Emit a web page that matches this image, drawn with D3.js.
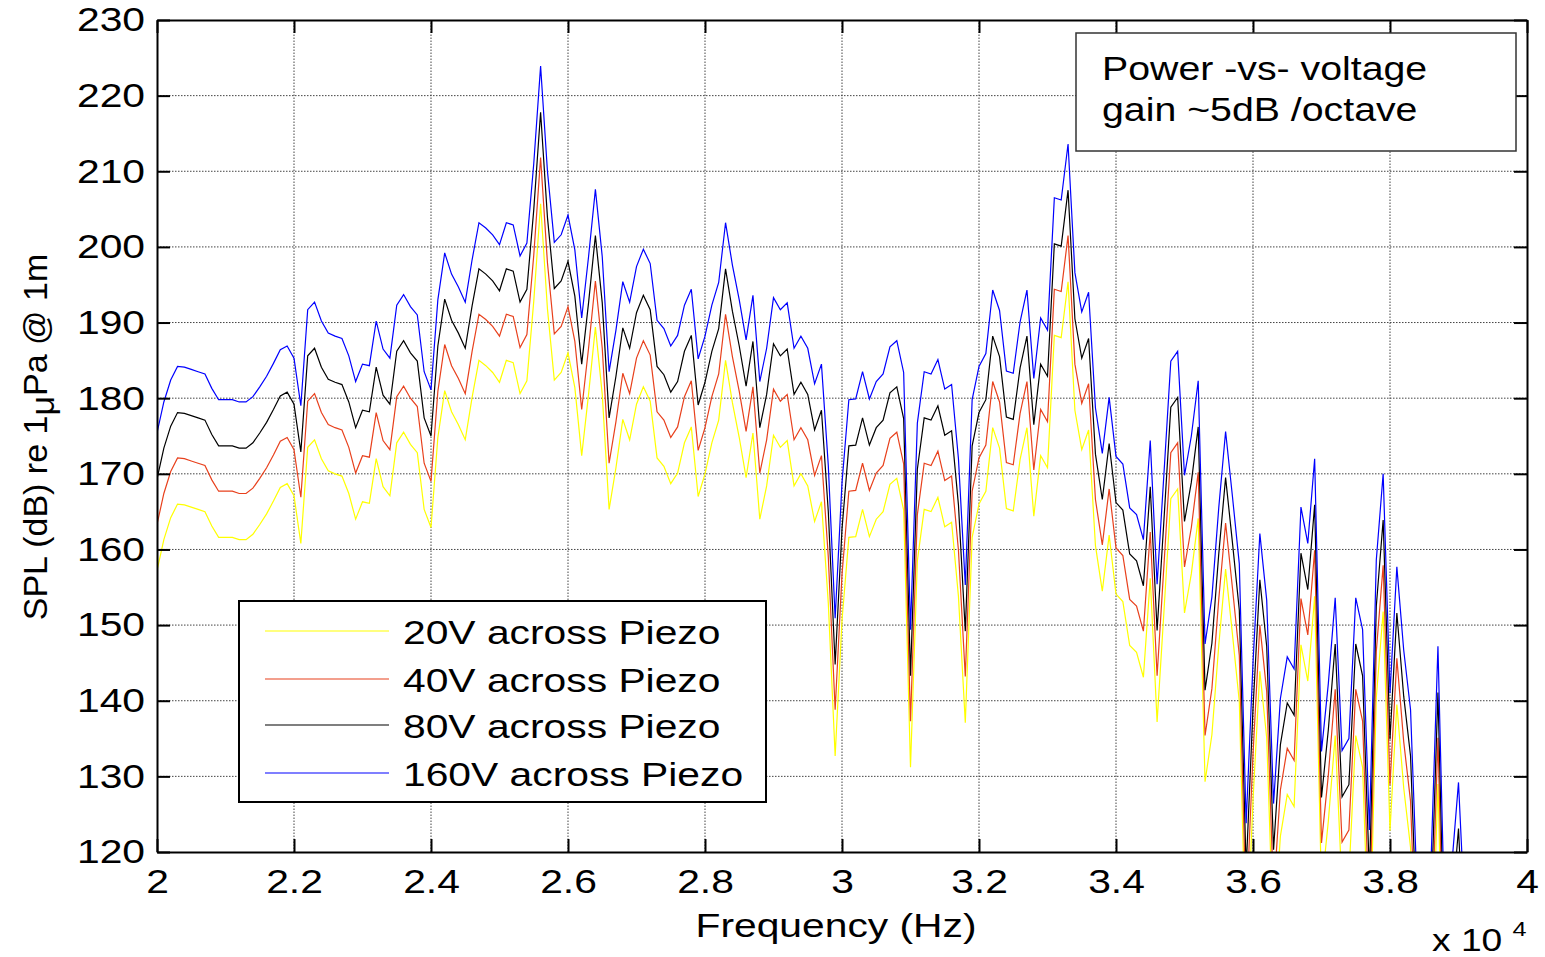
<!DOCTYPE html>
<html>
<head>
<meta charset="utf-8">
<title>SPL vs frequency</title>
<script src="https://cdn.jsdelivr.net/npm/d3@7"></script>
<style>
  body { margin: 0; background: #fff; }
  svg text { font-family: "Liberation Sans", Arial, Helvetica, sans-serif; fill: #000; }
</style>
</head>
<body>
<script>
// frequency grid, 100 Hz steps
const freqHz = d3.range(20000, 39101, 100);

const spl20V = [
  157.2, 161.3, 164.2, 166.0, 165.9, 165.6, 165.3, 165.0, 163.1, 161.6,
  161.6, 161.6, 161.3, 161.3, 162.0, 163.3, 164.7, 166.4, 168.2, 168.7,
  167.1, 160.8, 173.5, 174.5, 172.0, 170.4, 170.0, 169.7, 167.4, 164.0,
  166.3, 166.1, 172.0, 168.3, 167.1, 174.1, 175.5, 173.9, 172.8, 165.3,
  162.9, 174.8, 181.0, 178.2, 176.5, 174.5, 180.1, 185.0, 184.3, 183.4,
  182.1, 185.0, 184.7, 180.6, 182.3, 192.8, 205.7, 191.8, 182.4, 183.4,
  186.0, 181.4, 172.4, 180.5, 189.4, 180.5, 165.3, 170.8, 177.2, 174.5,
  179.2, 181.5, 179.6, 172.1, 171.0, 168.7, 170.1, 174.1, 176.2, 167.0,
  170.0, 174.1, 177.1, 185.0, 179.4, 174.8, 169.5, 175.4, 164.0, 168.4,
  175.1, 173.5, 174.4, 168.4, 170.0, 168.4, 163.7, 166.3, 152.9, 132.7,
  150.6, 161.6, 161.7, 165.3, 161.7, 164.0, 165.0, 168.6, 169.4, 165.2,
  131.2, 158.5, 165.3, 165.0, 166.9, 163.0, 163.6, 153.8, 137.1, 161.6,
  166.0, 167.7, 176.1, 173.4, 165.4, 165.1, 171.9, 176.1, 164.4, 172.4,
  170.8, 188.3, 188.0, 195.4, 178.4, 173.2, 175.8, 160.5, 154.5, 161.9,
  154.1, 153.1, 147.3, 146.4, 143.1, 156.2, 137.2, 151.8, 166.7, 168.0,
  151.6, 156.8, 164.1, 129.3, 135.5, 147.3, 157.4, 148.8, 139.9, 105.6,
  126.8, 143.9, 135.1, 108.2, 122.1, 127.6, 126.0, 147.4, 142.6, 153.8,
  115.1, 124.1, 135.4, 115.2, 116.8, 135.4, 131.2, 104.7, 140.4, 151.8,
  122.8, 139.5, 128.5, 120.6, 95.8, 89.8, 100.8, 129.0, 91.8, 99.8,
  111.0, 91.8
];

const spl40V = [
  163.3, 167.4, 170.3, 172.1, 172.0, 171.7, 171.4, 171.1, 169.2, 167.7,
  167.7, 167.7, 167.4, 167.4, 168.1, 169.4, 170.8, 172.5, 174.3, 174.8,
  173.2, 166.9, 179.6, 180.6, 178.1, 176.5, 176.1, 175.8, 173.5, 170.1,
  172.4, 172.2, 178.1, 174.4, 173.2, 180.2, 181.6, 180.0, 178.9, 171.4,
  169.0, 180.9, 187.1, 184.3, 182.6, 180.6, 186.2, 191.1, 190.4, 189.5,
  188.2, 191.1, 190.8, 186.7, 188.4, 198.9, 211.8, 197.9, 188.5, 189.5,
  192.1, 187.5, 178.5, 186.6, 195.5, 186.6, 171.4, 176.9, 183.3, 180.6,
  185.3, 187.6, 185.7, 178.2, 177.1, 174.8, 176.2, 180.2, 182.3, 173.1,
  176.1, 180.2, 183.2, 191.1, 185.5, 180.9, 175.6, 181.5, 170.1, 174.5,
  181.2, 179.6, 180.5, 174.5, 176.1, 174.5, 169.8, 172.4, 159.0, 138.8,
  156.7, 167.7, 167.8, 171.4, 167.8, 170.1, 171.1, 174.7, 175.5, 171.3,
  137.3, 164.6, 171.4, 171.1, 173.0, 169.1, 169.7, 159.9, 143.2, 167.7,
  172.1, 173.8, 182.2, 179.5, 171.5, 171.2, 178.0, 182.2, 170.5, 178.5,
  176.9, 194.4, 194.1, 201.5, 184.5, 179.3, 181.9, 166.6, 160.6, 168.0,
  160.2, 159.2, 153.4, 152.5, 149.2, 162.3, 143.3, 157.9, 172.8, 174.1,
  157.7, 162.9, 170.2, 135.4, 141.6, 153.4, 163.5, 154.9, 146.0, 111.7,
  132.9, 150.0, 141.2, 114.3, 128.2, 133.7, 132.1, 153.5, 148.7, 159.9,
  121.2, 130.2, 141.5, 121.3, 122.9, 141.5, 137.3, 110.8, 146.5, 157.9,
  128.9, 145.6, 134.6, 126.7, 101.9, 95.9, 106.9, 135.1, 97.9, 105.9,
  117.1, 97.9
];

const spl80V = [
  169.3, 173.4, 176.3, 178.1, 178.0, 177.7, 177.4, 177.1, 175.2, 173.7,
  173.7, 173.7, 173.4, 173.4, 174.1, 175.4, 176.8, 178.5, 180.3, 180.8,
  179.2, 172.9, 185.6, 186.6, 184.1, 182.5, 182.1, 181.8, 179.5, 176.1,
  178.4, 178.2, 184.1, 180.4, 179.2, 186.2, 187.6, 186.0, 184.9, 177.4,
  175.0, 186.9, 193.1, 190.3, 188.6, 186.6, 192.2, 197.1, 196.4, 195.5,
  194.2, 197.1, 196.8, 192.7, 194.4, 204.9, 217.8, 203.9, 194.5, 195.5,
  198.1, 193.5, 184.5, 192.6, 201.5, 192.6, 177.4, 182.9, 189.3, 186.6,
  191.3, 193.6, 191.7, 184.2, 183.1, 180.8, 182.2, 186.2, 188.3, 179.1,
  182.1, 186.2, 189.2, 197.1, 191.5, 186.9, 181.6, 187.5, 176.1, 180.5,
  187.2, 185.6, 186.5, 180.5, 182.1, 180.5, 175.8, 178.4, 165.0, 144.8,
  162.7, 173.7, 173.8, 177.4, 173.8, 176.1, 177.1, 180.7, 181.5, 177.3,
  143.3, 170.6, 177.4, 177.1, 179.0, 175.1, 175.7, 165.9, 149.2, 173.7,
  178.1, 179.8, 188.2, 185.5, 177.5, 177.2, 184.0, 188.2, 176.5, 184.5,
  182.9, 200.4, 200.1, 207.5, 190.5, 185.3, 187.9, 172.6, 166.6, 174.0,
  166.2, 165.2, 159.4, 158.5, 155.2, 168.3, 149.3, 163.9, 178.8, 180.1,
  163.7, 168.9, 176.2, 141.4, 147.6, 159.4, 169.5, 160.9, 152.0, 117.7,
  138.9, 156.0, 147.2, 120.3, 134.2, 139.7, 138.1, 159.5, 154.7, 165.9,
  127.2, 136.2, 147.5, 127.3, 128.9, 147.5, 143.3, 116.8, 152.5, 163.9,
  134.9, 151.6, 140.6, 132.7, 107.9, 101.9, 112.9, 141.1, 103.9, 111.9,
  123.1, 103.9
];

const spl160V = [
  175.4, 179.5, 182.4, 184.2, 184.1, 183.8, 183.5, 183.2, 181.3, 179.8,
  179.8, 179.8, 179.5, 179.5, 180.2, 181.5, 182.9, 184.6, 186.4, 186.9,
  185.3, 179.0, 191.7, 192.7, 190.2, 188.6, 188.2, 187.9, 185.6, 182.2,
  184.5, 184.3, 190.2, 186.5, 185.3, 192.3, 193.7, 192.1, 191.0, 183.5,
  181.1, 193.0, 199.2, 196.4, 194.7, 192.7, 198.3, 203.2, 202.5, 201.6,
  200.3, 203.2, 202.9, 198.8, 200.5, 211.0, 223.9, 210.0, 200.6, 201.6,
  204.2, 199.6, 190.6, 198.7, 207.6, 198.7, 183.5, 189.0, 195.4, 192.7,
  197.4, 199.7, 197.8, 190.3, 189.2, 186.9, 188.3, 192.3, 194.4, 185.2,
  188.2, 192.3, 195.3, 203.2, 197.6, 193.0, 187.7, 193.6, 182.2, 186.6,
  193.3, 191.7, 192.6, 186.6, 188.2, 186.6, 181.9, 184.5, 171.1, 150.9,
  168.8, 179.8, 179.9, 183.5, 179.9, 182.2, 183.2, 186.8, 187.6, 183.4,
  149.4, 176.7, 183.5, 183.2, 185.1, 181.2, 181.8, 172.0, 155.3, 179.8,
  184.2, 185.9, 194.3, 191.6, 183.6, 183.3, 190.1, 194.3, 182.6, 190.6,
  189.0, 206.5, 206.2, 213.6, 196.6, 191.4, 194.0, 178.7, 172.7, 180.1,
  172.3, 171.3, 165.5, 164.6, 161.3, 174.4, 155.4, 170.0, 184.9, 186.2,
  169.8, 175.0, 182.3, 147.5, 153.7, 165.5, 175.6, 167.0, 158.1, 123.8,
  145.0, 162.1, 153.3, 126.4, 140.3, 145.8, 144.2, 165.6, 160.8, 172.0,
  133.3, 142.3, 153.6, 133.4, 135.0, 153.6, 149.4, 122.9, 158.6, 170.0,
  141.0, 157.7, 146.7, 138.8, 114.0, 108.0, 119.0, 147.2, 110.0, 118.0,
  129.2, 110.0
];

const seriesNames = ["20V across Piezo", "40V across Piezo", "80V across Piezo", "160V across Piezo"];
const seriesColors = ["#ffff00", "#e8401c", "#000000", "#0000ff"];
const xTicks = [20000, 22000, 24000, 26000, 28000, 30000, 32000, 34000, 36000, 38000, 40000];
const xTickLabels = ["2", "2.2", "2.4", "2.6", "2.8", "3", "3.2", "3.4", "3.6", "3.8", "4"];
const yTicks = [120, 130, 140, 150, 160, 170, 180, 190, 200, 210, 220, 230];
const noteLines = ["Power -vs- voltage", "gain ~5dB /octave"];

const width = 1545, height = 957;
const margin = { left: 157, right: 18, top: 20, bottom: 105 };
const fs = 34, stretch = 1.2;   // the picture is wider than tall, text is stretched sideways

const svg = d3.select("body").append("svg")
    .attr("width", width)
    .attr("height", height);

const x = d3.scaleLinear().domain([20000, 40000]).range([margin.left, width - margin.right]);
const y = d3.scaleLinear().domain([120, 230]).range([height - margin.bottom, margin.top]);

// grid, dotted like matlab
const grid = svg.append("g")
    .attr("stroke", "#444")
    .attr("stroke-width", 1)
    .attr("stroke-dasharray", "1.5,1.5");
grid.selectAll(".gx").data(xTicks.slice(1, -1)).join("line")
    .attr("x1", d => x(d)).attr("x2", d => x(d))
    .attr("y1", y(120)).attr("y2", y(230));
grid.selectAll(".gy").data(yTicks.slice(1, -1)).join("line")
    .attr("x1", x(20000)).attr("x2", x(40000))
    .attr("y1", d => y(d)).attr("y2", d => y(d));

// lines, clipped to the axes box like matlab does
svg.append("clipPath").attr("id", "plotClip")
    .append("rect")
    .attr("x", x(20000)).attr("y", y(230))
    .attr("width", x(40000) - x(20000)).attr("height", y(120) - y(230));

const line = d3.line()
    .x((d, i) => x(freqHz[i]))
    .y(d => y(d));

const series = [spl20V, spl40V, spl80V, spl160V];
svg.append("g").attr("clip-path", "url(#plotClip)")
    .selectAll("path").data(series).join("path")
    .attr("d", line)
    .attr("fill", "none")
    .attr("stroke", (d, i) => seriesColors[i])
    .attr("stroke-width", 1.2)
    .attr("stroke-linejoin", "miter");

// axes, ticks pointing in
function styleAxis(g) {
    g.attr("font-family", null).attr("font-size", null);
    g.select(".domain").attr("stroke", "#000").attr("stroke-width", 2);
    g.selectAll(".tick line").attr("stroke", "#000").attr("stroke-width", 2);
}

svg.append("g")
    .attr("transform", `translate(0,${y(120)})`)
    .call(d3.axisBottom(x).tickValues(xTicks).tickFormat((d, i) => xTickLabels[i])
        .tickSizeInner(-13).tickSizeOuter(0).tickPadding(17))
    .call(styleAxis)
    .call(g => g.selectAll(".tick text").attr("font-size", fs).attr("transform", `scale(${stretch},1)`));

svg.append("g")
    .attr("transform", `translate(${x(20000)},0)`)
    .call(d3.axisLeft(y).tickValues(yTicks).tickSizeInner(-13).tickSizeOuter(0).tickPadding(10))
    .call(styleAxis)
    .call(g => g.selectAll(".tick text").attr("font-size", fs).attr("transform", `scale(${stretch},1)`));

svg.append("g")
    .attr("transform", `translate(0,${y(230)})`)
    .call(d3.axisTop(x).tickValues(xTicks).tickFormat("").tickSizeInner(-13).tickSizeOuter(0))
    .call(styleAxis);

svg.append("g")
    .attr("transform", `translate(${x(40000)},0)`)
    .call(d3.axisRight(y).tickValues(yTicks).tickFormat("").tickSizeInner(-13).tickSizeOuter(0))
    .call(styleAxis);

// axis titles
svg.append("g")
    .attr("transform", `translate(836,937) scale(${stretch},1)`)
    .append("text")
    .attr("text-anchor", "middle")
    .attr("font-size", fs)
    .text("Frequency (Hz)");

const xExp = svg.append("g").attr("transform", `translate(1432,951) scale(${stretch},1)`);
xExp.append("text").attr("font-size", fs - 3).text("x 10");
xExp.append("text").attr("x", 67).attr("y", -15).attr("font-size", 21).text("4");

const yTitle = svg.append("text")
    .attr("transform", `translate(47,${(y(120) + y(230)) / 2 + 1}) rotate(-90)`)
    .attr("text-anchor", "middle")
    .attr("font-size", fs);
yTitle.append("tspan").text("SPL (dB) re 1");
yTitle.append("tspan").attr("dy", 7).text("μ");
yTitle.append("tspan").attr("dy", -7).text("Pa @ 1m");

// legend box
const legend = svg.append("g").attr("transform", "translate(239,601)");
legend.append("rect")
    .attr("width", 527).attr("height", 201)
    .attr("fill", "#fff").attr("stroke", "#000").attr("stroke-width", 2);
const rowY = [30, 78, 124, 172];
const rows = legend.selectAll(".row").data(seriesNames).join("g")
    .attr("transform", (d, i) => `translate(0,${rowY[i]})`);
rows.append("line")
    .attr("x1", 26).attr("x2", 150)
    .attr("stroke", (d, i) => seriesColors[i])
    .attr("stroke-width", 1.2);
rows.append("g")
    .attr("transform", `translate(164,13) scale(${stretch},1)`)
    .append("text")
    .attr("font-size", fs)
    .text(d => d);

// note box
const note = svg.append("g").attr("transform", "translate(1076,33)");
note.append("rect")
    .attr("width", 440).attr("height", 118)
    .attr("fill", "#fff").attr("stroke", "#333").attr("stroke-width", 1.5);
note.selectAll("g").data(noteLines).join("g")
    .attr("transform", (d, i) => `translate(26,${47 + i * 41}) scale(1.19,1)`)
    .append("text")
    .attr("font-size", 33)
    .text(d => d);
</script>
</body>
</html>
